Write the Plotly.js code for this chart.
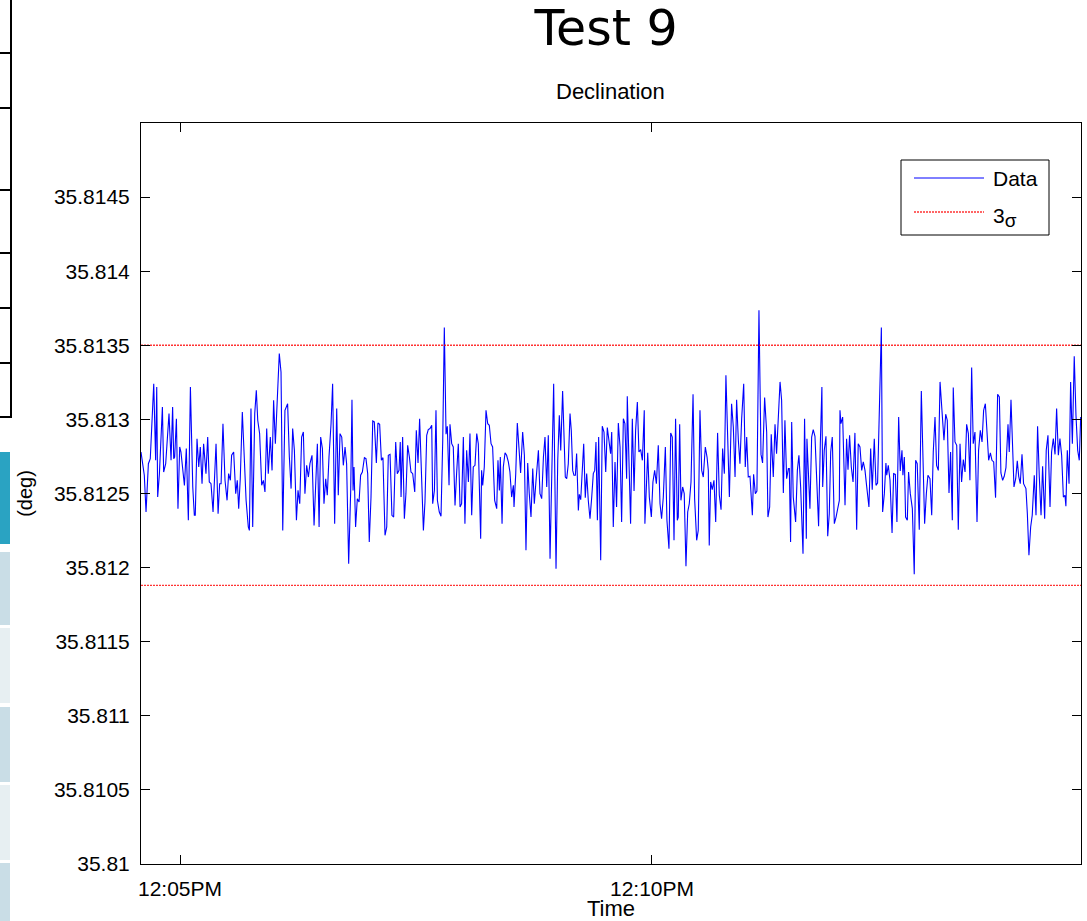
<!DOCTYPE html>
<html>
<head>
<meta charset="utf-8">
<script src="https://cdn.plot.ly/plotly-3.0.1.min.js"></script>
<style>html,body{margin:0;padding:0;background:#fff;}#chart{width:1087px;height:921px;}</style>
</head>
<body>
<div id="chart"></div>
<script>
// ---- data ----
// seconds relative to 12:05:00 PM
const tSec = [
-24.8,-22.7,-21.6,-20.1,-18.9,-16.7,-15.5,-14.8,-14.2,-13.1,
-11.2,-10.4,-9.1,-7.0,-5.7,-4.7,-4.0,-3.4,-2.3,-1.3,
-0.2,0.6,2.8,4.0,5.3,6.6,8.1,9.1,9.7,10.8,
11.9,12.9,14.0,15.0,16.5,17.6,18.6,19.7,21.0,22.9,
24.2,25.2,26.1,27.3,28.6,29.9,30.9,32.0,32.8,34.1,
35.4,36.4,37.3,38.3,39.6,40.9,42.0,43.4,44.1,45.1,
46.2,47.5,48.5,49.4,50.6,51.9,53.0,54.0,55.1,56.1,
57.4,58.5,59.5,60.6,61.7,63.1,64.2,65.3,66.7,68.4,
69.5,70.6,71.6,72.7,74.0,75.0,76.1,
77.3,78.4,79.4,80.5,81.6,82.6,83.9,85.2,86.2,87.3,
88.4,89.4,90.5,91.5,92.6,93.6,94.7,96.0,97.0,98.3,
99.6,100.6,101.7,102.8,103.8,104.9,105.9,107.2,108.5,109.3,
110.0,110.6,111.6,112.7,113.8,114.8,115.9,117.2,118.2,119.3,
120.3,121.4,122.5,123.5,124.8,125.8,126.9,128.0,129.0,130.3,
131.4,132.4,133.5,134.7,135.8,137.1,138.1,139.2,140.0,140.5,
141.5,142.6,143.6,144.7,145.8,146.8,147.9,149.2,150.2,151.3,
152.3,153.4,154.7,155.7,156.8,157.8,158.9,160.0,160.6,161.7,
162.7,163.6,164.8,165.9,167.0,168.0,169.1,169.9,171.0,171.6,
172.7,173.7,174.8,175.8,176.9,
178.0,179.0,180.1,181.1,182.2,183.3,184.3,185.4,186.4,187.5,
188.6,189.6,191.1,191.7,192.4,193.4,194.5,195.6,196.6,197.7,
198.7,200.0,201.3,202.1,203.0,203.6,204.7,205.5,206.6,207.6,
208.7,209.7,210.8,211.9,212.3,213.4,214.4,215.5,216.5,217.8,
218.9,219.9,221.0,222.0,223.1,224.2,225.2,226.3,227.8,228.8,
229.9,231.0,232.0,233.1,234.1,235.2,236.4,237.5,239.0,240.1,
241.1,242.0,243.2,244.1,244.9,245.8,246.8,247.9,248.7,249.6,
250.4,251.3,252.1,253.2,253.8,254.7,255.5,256.6,257.6,258.5,
259.5,260.6,261.7,262.7,263.6,264.4,265.3,266.1,267.4,268.4,
269.5,270.6,271.6,272.7,273.7,274.4,275.4,276.5,277.5,278.6,
279.7,280.7,281.8,282.8,283.9,284.3,285.4,286.4,287.5,288.6,
289.6,290.7,291.7,292.8,293.9,295.1,295.5,296.2,297.3,298.3,
299.6,300.6,301.7,302.8,304.0,305.1,306.1,307.2,308.5,309.5,
310.8,311.9,312.9,314.0,315.0,316.1,316.7,317.6,318.4,319.5,
320.5,321.6,322.7,323.7,324.8,326.1,327.1,328.4,329.4,330.5,
331.6,332.6,333.9,335.0,335.8,336.4,337.3,338.3,339.4,340.5,
341.7,342.8,343.9,344.9,346.0,347.0,348.1,349.2,350.6,351.7,
352.8,353.8,354.9,355.9,357.0,358.3,359.3,360.2,361.2,362.3,
363.8,364.6,365.7,366.7,368.0,369.3,370.3,371.6,372.9,373.7,
374.8,375.8,377.1,378.2,379.2,380.3,
381.4,382.4,383.5,384.5,385.6,386.7,387.3,388.1,388.8,389.8,
390.5,391.3,392.4,393.4,394.5,396.0,397.0,398.1,398.5,400.4,
401.5,402.5,403.6,404.7,405.9,407.0,408.0,408.5,409.5,410.6,
411.7,412.7,413.6,414.6,415.9,417.0,418.0,419.1,419.5,420.1,
421.2,422.7,423.7,424.6,425.6,426.7,427.8,429.0,430.1,431.1,
432.2,433.3,434.3,435.4,436.4,437.9,439.0,440.0,441.3,442.4,
443.4,444.5,445.8,446.6,447.7,448.7,449.2,450.2,451.3,452.6,
453.6,454.7,455.7,456.8,457.8,458.9,459.5,460.4,461.2,462.3,
463.1,464.2,465.5,466.7,467.6,468.6,469.9,471.2,472.3,473.3,
474.4,475.4,476.7,477.8,478.8,479.9,480.9,482.0,
483.1,484.1,485.6,486.7,487.7,488.8,489.8,490.9,491.5,492.6,
493.7,494.7,495.8,496.8,497.9,499.0,500.0,501.1,502.1,503.2,
504.2,505.3,506.6,507.6,508.7,509.8,510.8,511.9,512.9,514.0,
515.1,516.1,517.2,518.4,519.7,520.8,521.8,522.9,523.9,525.0,
526.3,527.1,528.2,529.2,530.1,531.2,532.2,533.1,534.1,535.2,
536.2,537.7,538.6,539.6,540.7,541.7,543.0,544.1,545.1,546.2,
547.3,548.3,549.6,550.6,551.7,553.0,554.0,555.1,556.2,557.2,
558.3,559.3,560.4,561.5,562.5,563.1,564.0,565.1,566.1,567.2,
568.4,569.5,570.6,571.6,572.5
];
// declination (deg)
const decl = [
35.812780,35.812623,35.812375,35.812701,35.812735,35.813241,35.812724,35.813219,35.812476,35.812634,
35.813084,35.812645,35.812701,35.813039,35.812724,35.813084,35.812735,35.812746,35.813005,35.812398,
35.812814,35.812780,35.812555,35.812803,35.812319,35.813219,35.812544,35.812353,35.812353,35.812870,
35.812679,35.812814,35.812566,35.812836,35.812634,35.812881,35.812578,35.812566,35.812375,35.812836,
35.812364,35.812566,35.812566,35.812971,35.812589,35.812454,35.812634,35.812589,35.812758,35.812780,
35.812499,35.812589,35.812398,35.812600,35.813050,35.812746,35.812454,35.812274,35.812251,35.813073,
35.812274,35.813039,35.813196,35.812994,35.812904,35.812555,35.812589,35.812510,35.812938,35.812634,
35.812881,35.812656,35.813129,35.812836,35.813106,35.813444,35.813320,35.812251,35.813061,35.813106,
35.812746,35.812533,35.812938,35.812791,35.812319,35.812521,35.812431,
35.812881,35.812915,35.812499,35.812690,35.812611,35.812701,35.812758,35.812285,35.812544,35.812836,
35.812274,35.812881,35.812803,35.812431,35.812600,35.812488,35.812746,35.812971,35.813241,35.812296,
35.813073,35.812488,35.812904,35.812881,35.812690,35.812814,35.812701,35.812026,35.812521,35.813133,
35.812521,35.812679,35.812274,35.812465,35.812443,35.812623,35.812645,35.812742,35.812735,35.812634,
35.812173,35.812476,35.812989,35.812983,35.812706,35.812976,35.812967,35.812724,35.812742,35.812218,
35.812274,35.812758,35.812764,35.812353,35.812341,35.812848,35.812634,35.812656,35.812848,35.812476,
35.812881,35.812330,35.812499,35.812825,35.812746,35.812645,35.812634,35.812510,35.812926,35.812706,
35.813005,35.812578,35.812251,35.812443,35.812893,35.812931,35.812938,35.812960,35.812431,35.812521,
35.813061,35.812454,35.812375,35.812346,35.812859,35.813620,35.812900,35.812954,35.812555,35.812967,
35.812836,35.812814,35.812420,35.812634,35.812836,
35.812409,35.812431,35.812881,35.812296,35.812791,35.812578,35.812904,35.812353,35.812679,35.812690,
35.812904,35.812836,35.812195,35.812656,35.812555,35.812679,35.813061,35.812971,35.812960,35.812836,
35.812814,35.812454,35.812398,35.812724,35.812521,35.812746,35.812296,35.812679,35.812774,35.812758,
35.812713,35.812645,35.812476,35.812555,35.812409,35.812634,35.812976,35.812791,35.812639,35.812915,
35.812758,35.812117,35.812706,35.812499,35.812341,35.812668,35.812431,35.812589,35.812791,35.812499,
35.812465,35.812746,35.812881,35.812544,35.812893,35.812060,35.812679,35.813241,35.811993,35.812724,
35.813028,35.812791,35.813192,35.812926,35.812611,35.812600,35.812701,35.813039,35.812926,35.812656,
35.812623,35.812623,35.812769,35.812386,35.812494,35.812458,35.812634,35.812836,35.812472,35.812634,
35.812454,35.812330,35.812476,35.812634,35.812656,35.812848,35.812319,35.812881,35.812049,35.812954,
35.812915,35.812645,35.812945,35.812836,35.812769,35.812915,35.812274,35.812713,35.812409,35.812976,
35.812814,35.812308,35.813005,35.812971,35.812600,35.813156,35.812724,35.812296,35.813005,35.812517,
35.812926,35.813118,35.812780,35.812796,35.812724,35.813061,35.812296,35.812454,35.812774,35.812476,
35.812341,35.812578,35.812656,35.812566,35.812825,35.812431,35.812330,35.812476,35.812814,35.812319,
35.812128,35.812909,35.812881,35.812184,35.813005,35.812319,35.812341,35.812967,35.812454,35.812544,
35.812499,35.812009,35.812375,35.812431,35.812578,35.813170,35.812465,35.812184,35.812251,35.813061,
35.812656,35.812611,35.812814,35.812746,35.812656,35.812150,35.812578,35.812526,35.812589,35.812308,
35.812909,35.812488,35.812391,35.812803,35.812634,35.813298,35.812926,35.812476,35.813106,35.812949,
35.812611,35.813133,35.812859,35.812701,35.813005,35.813241,35.812679,35.812881,35.812611,35.812616,
35.812353,35.812629,35.812499,35.812517,35.813736,35.812764,35.812706,35.813147,35.812915,35.812341,
35.812409,35.812900,35.812611,35.812967,35.812769,35.813016,
35.813253,35.813129,35.812503,35.812994,35.812600,35.812668,35.812668,35.812173,35.812983,35.812476,
35.812375,35.812308,35.812656,35.812758,35.812544,35.812094,35.813005,35.812195,35.812870,35.812398,
35.812881,35.812931,35.812886,35.812578,35.812279,35.812836,35.813219,35.812544,35.812791,35.812886,
35.812211,35.812364,35.812780,35.812881,35.812296,35.812341,35.812386,35.812454,35.813061,35.812971,
35.813016,35.812420,35.812870,35.812661,35.812893,35.812679,35.812578,35.812909,35.812256,35.812836,
35.812814,35.812656,35.812713,35.812656,35.812555,35.812409,35.812803,35.812526,35.812870,35.812555,
35.812571,35.813061,35.813620,35.812375,35.812499,35.812706,35.812623,35.812690,35.812589,35.812234,
35.812634,35.812629,35.812308,35.813016,35.812652,35.812791,35.812623,35.812746,35.812341,35.812319,
35.812645,35.812499,35.812398,35.811955,35.812724,35.812701,35.812256,35.813192,35.812769,35.812296,
35.812499,35.812623,35.812600,35.812353,35.812780,35.813016,35.812690,35.812656,
35.813253,35.813061,35.812859,35.813035,35.812994,35.812503,35.812780,35.812319,35.813215,35.812848,
35.812825,35.812256,35.812836,35.812578,35.812729,35.812645,35.812967,35.812904,35.812589,35.813350,
35.812836,35.812915,35.812308,35.812791,35.812926,35.812848,35.813061,35.813106,35.812915,35.812724,
35.812774,35.812724,35.812713,35.812472,35.813170,35.813152,35.812639,35.812589,35.812616,35.812675,
35.812967,35.812780,35.813133,35.812780,35.812544,35.812600,35.812720,35.812616,35.812566,35.812764,
35.812566,35.812533,35.812364,35.812083,35.812274,35.812353,35.812623,35.812353,35.812954,35.812611,
35.812353,35.812684,35.812330,35.812791,35.812893,35.812409,35.812780,35.812870,35.812764,35.813073,
35.812758,35.812870,35.812758,35.812476,35.812488,35.812414,35.812791,35.812566,35.813253,35.812836,
35.813426,35.813028,35.812791,35.812724,35.813016
];
const sigmaBounds = [35.81188, 35.8135];   // 3-sigma lower / upper
const xRangeSec = [-24.8, 572.7];           // axis extent, seconds from 12:05 PM
const yRange = [35.81, 35.815];
const yTickVals = [35.81, 35.8105, 35.811, 35.8115, 35.812, 35.8125, 35.813, 35.8135, 35.814, 35.8145];
const yTickText = ['35.81', '35.8105', '35.811', '35.8115', '35.812', '35.8125', '35.813', '35.8135', '35.814', '35.8145'];
const seriesNames = ['Data', '3σ'];
const titleText = 'Test 9';
const subTitleText = 'Declination';
const xTitleText = 'Time';
const yTitleText = '(deg)';

// ---- build ----
const n = Math.min(tSec.length, decl.length);
const base = Date.UTC(2013, 0, 1, 12, 5, 0);
const toMs = s => base + s * 1000;
const xData = tSec.slice(0, n).map(toMs);
const xEdge = xRangeSec.map(toMs);

const helv = 'Liberation Sans, Arial, Helvetica, sans-serif';
const BLUE = '#0000ff', RED = '#ff0000';
const sigmaLine = {color: RED, width: 1.4, dash: '2px,1px'};

const traces = [
  {x: xData, y: decl.slice(0, n), type: 'scatter', mode: 'lines', name: seriesNames[0],
   line: {color: BLUE, width: 1.1}, showlegend: false},
  {x: xEdge, y: [sigmaBounds[1], sigmaBounds[1]], type: 'scatter', mode: 'lines', name: seriesNames[1],
   line: sigmaLine, opacity: 0.8, showlegend: false},
  {x: xEdge, y: [sigmaBounds[0], sigmaBounds[0]], type: 'scatter', mode: 'lines', name: seriesNames[1],
   line: sigmaLine, opacity: 0.8, showlegend: false}
];

// pixel -> paper helpers (plot area: x 141..1081, y 123..864)
const L = 141, R = 1081, T = 123, B = 864;
const px = x => (x - L) / (R - L);
const py = y => (B - y) / (B - T);

const shapes = [];
// custom legend box
shapes.push({type: 'rect', xref: 'paper', yref: 'paper', x0: px(901), x1: px(1049), y0: py(235), y1: py(160),
  line: {color: 'black', width: 1}, fillcolor: 'white', layer: 'above'});
shapes.push({type: 'line', xref: 'paper', yref: 'paper', x0: px(914), x1: px(984), y0: py(178), y1: py(178),
  line: {color: BLUE, width: 1}});
shapes.push({type: 'line', xref: 'paper', yref: 'paper', x0: px(914), x1: px(984), y0: py(212), y1: py(212),
  line: sigmaLine, opacity: 0.8});

// fragments of neighbouring page content at the left edge
shapes.push({type: 'line', xref: 'paper', yref: 'paper', x0: px(11), x1: px(11), y0: py(0), y1: py(418),
  line: {color: 'black', width: 2}});
[53, 108, 190, 253, 308, 363, 417].forEach(yy => shapes.push({type: 'line', xref: 'paper', yref: 'paper',
  x0: px(0), x1: px(11), y0: py(yy), y1: py(yy), line: {color: 'black', width: 2}}));
[[452, 544, '#2aa3c2'], [552, 625, '#c9dde6'], [628, 703, '#e7eff2'], [707, 782, '#c9dde6'],
 [785, 860, '#e7eff2'], [863, 921, '#c9dde6']].forEach(r => shapes.push({type: 'rect', xref: 'paper', yref: 'paper',
  x0: px(0), x1: px(10), y0: py(r[1]), y1: py(r[0]), line: {width: 0}, fillcolor: r[2], layer: 'above'}));

const sigmaLabel = seriesNames[1].charAt(0) + '<sub><span style="font-size:19px">' + seriesNames[1].slice(1) + '</span></sub>';

const annotations = [
  {text: subTitleText, xref: 'paper', yref: 'paper', x: px(610), y: py(92), xanchor: 'center', yanchor: 'middle',
   showarrow: false, font: {family: helv, size: 22, color: 'black'}},
  {text: seriesNames[0], xref: 'paper', yref: 'paper', x: px(991), y: py(178), xanchor: 'left', yanchor: 'middle',
   showarrow: false, font: {family: helv, size: 21, color: 'black'}},
  {text: sigmaLabel, xref: 'paper', yref: 'paper', x: px(991), y: py(217), xanchor: 'left', yanchor: 'middle',
   showarrow: false, font: {family: helv, size: 21, color: 'black'}}
];

const axisCommon = {
  showline: true, linecolor: 'black', linewidth: 1, mirror: 'ticks',
  ticks: 'inside', ticklen: 9, tickwidth: 1, tickcolor: 'black',
  showgrid: false, zeroline: false,
  tickfont: {family: helv, size: 21, color: 'black'}
};

const layout = {
  width: 1087, height: 921,
  margin: {l: L, r: 1087 - R, t: T, b: 921 - B, pad: 0},
  paper_bgcolor: 'white', plot_bgcolor: 'white',
  showlegend: false,
  title: {text: titleText, font: {family: 'DejaVu Sans, Verdana, sans-serif', size: 49, color: 'black'},
          xref: 'container', yref: 'container', x: 606 / 1087, xanchor: 'center', y: 1 - 28 / 921, yanchor: 'middle'},
  xaxis: Object.assign({}, axisCommon, {
    type: 'date', range: xEdge, tick0: base, dtick: 300000, tickformat: '%-I:%M%p',
    ticklabelstandoff: 6,
    title: {text: xTitleText, font: {family: helv, size: 22, color: 'black'}, standoff: 5},
    automargin: false
  }),
  yaxis: Object.assign({}, axisCommon, {
    range: yRange, tickmode: 'array', tickvals: yTickVals, ticktext: yTickText,
    ticklabelstandoff: 6,
    title: {text: yTitleText, font: {family: helv, size: 20, color: 'black'}, standoff: 15},
    automargin: false
  }),
  shapes: shapes,
  annotations: annotations
};

Plotly.newPlot('chart', traces, layout, {displayModeBar: false, staticPlot: true});
</script>
</body>
</html>
